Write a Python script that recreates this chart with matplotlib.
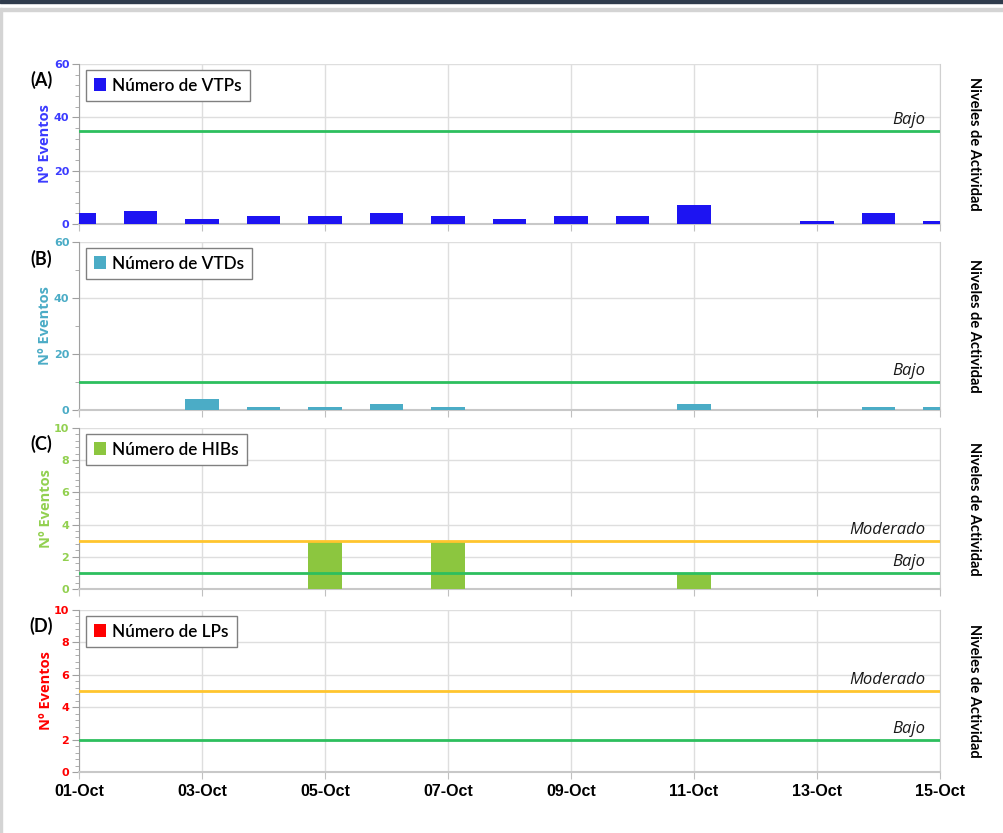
import datetime as dt
import matplotlib
matplotlib.use('Agg')
import matplotlib.pyplot as plt
import matplotlib.dates as mdates
import matplotlib.transforms as mtransforms
from matplotlib.patches import Rectangle
from matplotlib.ticker import MultipleLocator

# daily counts, 01-Oct .. 15-Oct
days = [dt.date(2023, 10, d) for d in range(1, 16)]
vtp = [4, 5, 2, 3, 3, 4, 3, 2, 3, 3, 7, 0, 1, 4, 1]
vtd = [0, 0, 4, 1, 1, 2, 1, 0, 0, 0, 2, 0, 0, 1, 1]
hib = [0, 0, 0, 0, 3, 0, 3, 0, 0, 0, 1, 0, 0, 0, 0]
lp = [0] * 15

# activity thresholds per panel
niveles_vtp = {'Bajo': 35}
niveles_vtd = {'Bajo': 10}
niveles_hib = {'Bajo': 1, 'Moderado': 3}
niveles_lp = {'Bajo': 2, 'Moderado': 5}

paneles = [
    ('(A)', 'Número de VTPs', vtp, niveles_vtp, '#1d14f2', '#3b3bff', 60, 20, 4),
    ('(B)', 'Número de VTDs', vtd, niveles_vtd, '#4bacc6', '#4bacc6', 60, 20, 10),
    ('(C)', 'Número de HIBs', hib, niveles_hib, '#8cc63f', '#92d050', 10, 2, 0.4),
    ('(D)', 'Número de LPs', lp, niveles_lp, '#ff0000', '#ff0000', 10, 2, 0.4),
]
colores_nivel = {'Bajo': '#2dbf5e', 'Moderado': '#ffc52e'}

W, H = 1004, 833
fig = plt.figure(figsize=(W / 100, H / 100), dpi=100)
fig.patch.set_facecolor('white')

# screenshot frame
fig.add_artist(Rectangle((0, 1 - 3 / H), 1, 3 / H, transform=fig.transFigure, color='#2f3b4c', zorder=0))
fig.add_artist(Rectangle((0, 1 - 11 / H), 1, 3 / H, transform=fig.transFigure, color='#d4d4d4', zorder=0))
fig.add_artist(Rectangle((0, 0), 2 / W, 1 - 8 / H, transform=fig.transFigure, color='#d4d4d4', zorder=0))

cajas = [(64, 224), (242, 410), (428, 589), (610, 772)]
x0, x1 = 79, 940
txt = 'Lato'

for (top, bot), (letra, nombre, datos, niveles, c_bar, c_txt, ymax, mayor, menor) in zip(cajas, paneles):
    ax = fig.add_axes([x0 / W, 1 - bot / H, (x1 - x0) / W, (bot - top) / H])
    ax.bar(days, datos, width=0.55, color=c_bar, zorder=3, label=nombre)
    trans = mtransforms.blended_transform_factory(ax.transAxes, ax.transData)
    for nom, val in niveles.items():
        ax.axhline(val, color=colores_nivel[nom], lw=2, zorder=4)
        ax.text(0.983, val + ymax * 0.018, nom, transform=trans, ha='right', va='bottom',
                fontsize=12, style='italic', family='Open Sans', color='#1a1a1a')
    ax.set_xlim(days[0], days[-1])
    ax.set_ylim(0, ymax)
    ax.xaxis.set_major_locator(mdates.DayLocator(interval=2))
    ax.xaxis.set_major_formatter(mdates.DateFormatter('%d-%b'))
    ax.yaxis.set_major_locator(MultipleLocator(mayor))
    ax.yaxis.set_minor_locator(MultipleLocator(menor))
    ax.grid(True, which='major', color='#dedede', lw=1, zorder=0)
    ax.spines['top'].set_visible(False)
    ax.spines['right'].set_color('#d0d0d0')
    ax.spines['left'].set_color('#a0a0a0')
    ax.spines['bottom'].set_color('#c8c8c8')
    ax.spines['bottom'].set_linewidth(1.5)
    ax.tick_params(axis='y', which='major', length=5, color='#a0a0a0', labelsize=8,
                   labelcolor=c_txt, pad=2)
    ax.tick_params(axis='y', which='minor', length=3, color='#a0a0a0')
    ax.tick_params(axis='x', length=5, color='#c0c0c0')
    for t in ax.get_yticklabels():
        t.set_fontweight('bold')
    ax.set_ylabel('Nº Eventos', color=c_txt, fontsize=10.5, fontweight='bold', family='Open Sans',
                  labelpad=1)
    ax.text(-0.044, 0.9, letra, transform=ax.transAxes, fontsize=13, family=txt,
            fontweight='bold', ha='center', va='center')
    leg = ax.legend(loc='upper left', handlelength=0.75, handleheight=0.75, handletextpad=0.35,
                    borderpad=0.45, fancybox=False, edgecolor='#808080', framealpha=1,
                    prop={'family': txt, 'size': 12.3, 'weight': 'semibold'},
                    bbox_to_anchor=(0.004, 0.985), borderaxespad=0.2)
    leg.get_frame().set_linewidth(1)
    ax.text(1.04, 0.5, 'Niveles de Actividad', transform=ax.transAxes, rotation=-90,
            ha='center', va='center', fontsize=10.5, fontweight='bold', family=txt)
    if letra == '(D)':
        for t in ax.get_xticklabels():
            t.set_fontweight('bold')
            t.set_fontsize(11.5)
            t.set_family('Liberation Sans')
    else:
        ax.tick_params(axis='x', labelbottom=False)

fig.savefig('out.png', dpi=100)
